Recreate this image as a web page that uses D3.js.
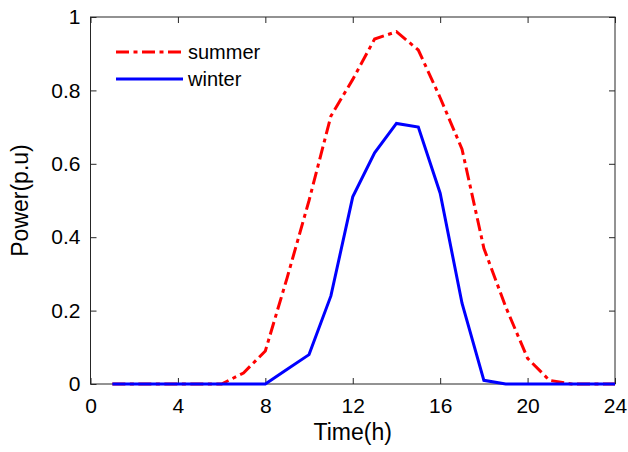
<!DOCTYPE html>
<html>
<head>
<meta charset="utf-8">
<script src="https://cdn.jsdelivr.net/npm/d3@7"></script>
<style>
  body { margin: 0; background: #fff; }
  text { font-family: "Liberation Sans", Arial, sans-serif; fill: #000; }
</style>
</head>
<body>
<div id="viz"></div>
<script>
// hours of the day
var hours = [1,2,3,4,5,6,7,8,9,10,11,12,13,14,15,16,17,18,19,20,21,22,23,24];
// summer PV output (p.u)
var summer = [0,0,0,0,0,0,0.03,0.09,0.29,0.50,0.73,0.83,0.94,0.96,0.91,0.78,0.64,0.37,0.21,0.07,0.01,0,0,0];
// winter PV output (p.u)
var winter = [0,0,0,0,0,0,0,0,0.04,0.08,0.24,0.51,0.63,0.71,0.70,0.52,0.22,0.01,0,0,0,0,0,0];
var xTicks = [0,4,8,12,16,20,24];
var yTicks = [0,0.2,0.4,0.6,0.8,1];

var width = 628, height = 452;
var margin = {top: 17, left: 90.5, right: 13, bottom: 68};

var svg = d3.select("#viz").append("svg")
  .attr("width", width)
  .attr("height", height);

var w = width - margin.left - margin.right;
var h = height - margin.top - margin.bottom;

var g = svg.append("g")
  .attr("transform", "translate(" + margin.left + "," + margin.top + ")");

var x_scale = d3.scaleLinear().domain([0, 24]).range([0, w]);
var y_scale = d3.scaleLinear().domain([0, 1]).range([h, 0]);

var axisColor = "#262626";
var tickLen = 6;

// box
g.append("rect")
  .attr("width", w).attr("height", h)
  .attr("fill", "none").attr("stroke", axisColor).attr("stroke-width", 1);

var fmtY = function(d){ return d === 0 || d === 1 ? d3.format("d")(d) : d3.format(".1f")(d); };

var xb = g.append("g").attr("class", "x axis")
  .attr("transform", "translate(0," + h + ")")
  .call(d3.axisBottom(x_scale).tickValues(xTicks).tickSize(-tickLen).tickPadding(14).tickFormat(d3.format("d")));
var xt = g.append("g")
  .call(d3.axisTop(x_scale).tickValues(xTicks).tickSize(-tickLen).tickFormat(""));
var yl = g.append("g").attr("class", "y axis")
  .call(d3.axisLeft(y_scale).tickValues(yTicks).tickSize(-tickLen).tickPadding(10).tickFormat(fmtY));
var yr = g.append("g")
  .attr("transform", "translate(" + w + ",0)")
  .call(d3.axisRight(y_scale).tickValues(yTicks).tickSize(-tickLen).tickFormat(""));

[xb, xt, yl, yr].forEach(function(a){
  a.select(".domain").remove();
  a.selectAll("line").attr("stroke", axisColor);
  a.selectAll("text").style("font-size", "21px").attr("fill", "#000");
});

// series
var line = d3.line()
  .x(function(d){ return x_scale(d[0]); })
  .y(function(d){ return y_scale(d[1]); });

g.append("path")
  .datum(hours.map(function(hr, i){ return [hr, summer[i]]; }))
  .attr("d", line)
  .attr("fill", "none")
  .attr("stroke", "#ff0000")
  .attr("stroke-width", 3)
  .attr("stroke-dasharray", "13,4.5,4,4.5");

g.append("path")
  .datum(hours.map(function(hr, i){ return [hr, winter[i]]; }))
  .attr("d", line)
  .attr("fill", "none")
  .attr("stroke", "#0000ff")
  .attr("stroke-width", 3);

// legend
var legend = svg.append("g");
var items = [
  {name: "summer", color: "#ff0000", dash: "13,4.5,4,4.5", y: 52},
  {name: "winter", color: "#0000ff", dash: null, y: 79}
];
items.forEach(function(it){
  legend.append("line")
    .attr("x1", 116).attr("x2", 183)
    .attr("y1", it.y).attr("y2", it.y)
    .attr("stroke", it.color).attr("stroke-width", 3)
    .attr("stroke-dasharray", it.dash);
  legend.append("text")
    .attr("x", 188).attr("y", it.y + 7)
    .style("font-size", "20px")
    .text(it.name);
});

// axis titles
svg.append("text")
  .attr("x", margin.left + w / 2).attr("y", 440)
  .style("text-anchor", "middle")
  .style("font-size", "23px")
  .text("Time(h)");

svg.append("text")
  .attr("transform", "translate(28," + (margin.top + h / 2) + ")rotate(-90)")
  .style("text-anchor", "middle")
  .style("font-size", "23px")
  .text("Power(p.u)");
</script>
</body>
</html>
